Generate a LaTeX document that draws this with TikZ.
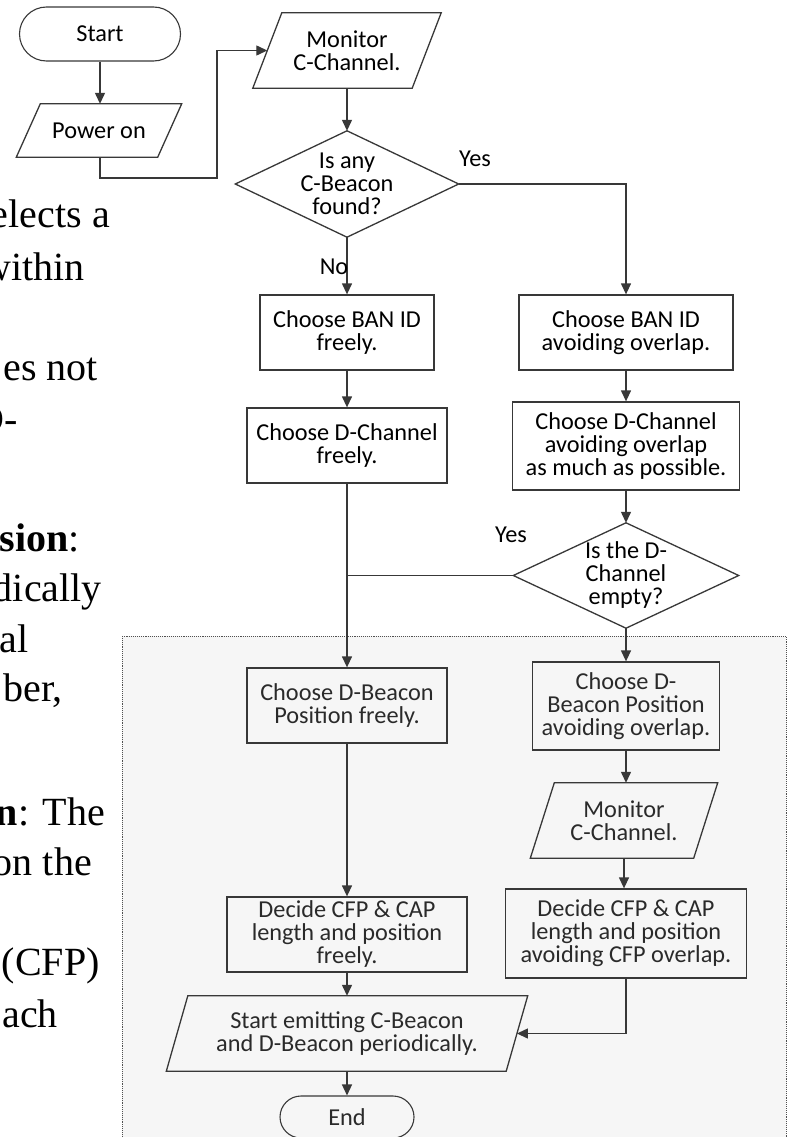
\documentclass[tikz,border=0pt]{standalone}
\usepackage{fontspec}
\newfontfamily\flowfont{Carlito}
\newfontfamily\sidefont{Liberation Serif}
\usetikzlibrary{arrows.meta,calc}
\definecolor{lc}{HTML}{383838}
\definecolor{regionfill}{HTML}{F6F6F6}
\definecolor{regionline}{HTML}{505050}
\definecolor{tc}{HTML}{2A2A2A}
\newcommand\paraoutline[2]{%
  \draw[outline] ($(#1.north west)+(#2/2,0)$) -- ($(#1.north east)+(#2/2,0)$)
    -- ($(#1.south east)+(-#2/2,0)$) -- ($(#1.south west)+(-#2/2,0)$) -- cycle;}
\newcommand\diamondoutline[1]{%
  \draw[outline] (#1.north) -- (#1.east) -- (#1.south) -- (#1.west) -- cycle;}
\begin{document}
\begin{tikzpicture}[x=1pt,y=-1pt,
  ff/.style={font=\flowfont\fontsize{24.3pt}{23pt}\selectfont, align=center, inner sep=0pt},
  boxnode/.style={ff, draw=lc, line width=1.3pt, rectangle, minimum height=75pt},
  ghost/.style={ff, rectangle, minimum height=75pt},
  termnode/.style={ff, draw=lc, line width=1.1pt, rectangle, minimum height=54pt, rounded corners=27pt},
  outline/.style={draw=lc, line width=1.3pt, line join=miter},
  flow/.style={draw=lc, line width=1.3pt, -{Triangle[length=11pt,width=10pt]}},
  plainline/.style={draw=lc, line width=1.3pt},
  lab/.style={font=\flowfont\fontsize{24.3pt}{23pt}\selectfont, inner sep=0pt},
  side/.style={font=\sidefont\fontsize{40pt}{50pt}\selectfont, inner sep=0pt, anchor=base east},
  intext/.style={text=tc},
]
\useasboundingbox (0,0) rectangle (787,1137);
\clip (0,0) rectangle (787,1137);
\fill[white] (0,0) rectangle (787,1137);

% shaded region
\fill[regionfill] (122,636) rectangle (786,1175);
\draw[regionline, densely dotted, line width=0.9pt] (122,636) rectangle (786,1175);

% side text fragments
\node[side] (t1) at (110,227) {elects a};
\node[side] (t2) at (85,280) {within};
\node[side] (t3) at (98,380) {es not};
\node[side] (t4) at (18,432) {D-};
\node[side] (t5) at (80,551) {\textbf{sion}:};
\node[side] (t6) at (102,601) {dically};
\node[side] (t7) at (29,652) {al};
\node[side] (t8) at (63,701) {ber,};
\node[side] (t9) at (105,825) {\textbf{n}: The};
\node[side] (t10) at (92,875) {on the};
\node[side] (t11) at (100,975) {(CFP)};
\node[side] (t12) at (58,1027) {ach};

% top part
\node[termnode, minimum width=161pt] (start) at (100,34) {Start};
\node[ghost, minimum width=141pt, minimum height=53pt] (pw) at (99,130.5) {Power on};
\paraoutline{pw}{24}
\node[ghost, minimum width=159pt] (mon1) at (347,50.5) {Monitor\\C-Channel.};
\paraoutline{mon1}{29}
\node[ghost, minimum width=223pt, minimum height=106pt] (d1) at (347,184) {Is any\\C-Beacon\\found?};
\diamondoutline{d1}
\node[boxnode, minimum width=174pt] (ban1) at (347,332.5) {Choose BAN ID\\freely.};
\node[boxnode, minimum width=214pt] (ban2) at (626,332.5) {Choose BAN ID\\avoiding overlap.};
\node[boxnode, minimum width=200pt] (dch1) at (347,445.5) {Choose D-Channel\\freely.};
\node[boxnode, minimum width=227pt, minimum height=88pt] (dch2) at (626,446) {Choose D-Channel\\avoiding overlap\\as much as possible.};
\node[ghost, minimum width=225pt, minimum height=105pt] (d2) at (626,575.5) {Is the D-\\Channel\\empty?};
\diamondoutline{d2}

% shaded part
\node[boxnode, intext, minimum width=200pt] (db1) at (347,705.5) {Choose D-Beacon\\Position freely.};
\node[boxnode, intext, minimum width=187pt, minimum height=88pt] (db2) at (626,706) {Choose D-\\Beacon Position\\avoiding overlap.};
\node[ghost, intext, minimum width=163pt] (mon2) at (624,820.5) {Monitor\\C-Channel.};
\paraoutline{mon2}{24}
\node[boxnode, intext, minimum width=240pt] (dec1) at (347,934.5) {Decide CFP \& CAP\\length and position\\freely.};
\node[boxnode, intext, minimum width=241pt, minimum height=89pt] (dec2) at (626,933.5) {Decide CFP \& CAP\\length and position\\avoiding CFP overlap.};
\node[ghost, intext, minimum width=339.5pt] (emit) at (347,1033.5) {Start emitting C-Beacon\\and D-Beacon periodically.};
\paraoutline{emit}{21.5}
\node[termnode, intext, minimum width=134pt, minimum height=42pt, rounded corners=21pt] (end) at (347,1117) {End};

% connectors
\coordinate (j1) at (217,178);
\draw[flow] (start.south -| pw.north) ++(1,0) -- ($(pw.north)+(1,0)$);
\draw[flow] ($(pw.south)+(1,0)$) |- (j1) |- (mon1.west);
\draw[flow] (mon1.south) -- (d1.north);
\draw[flow] (d1.south) -- (ban1.north);
\draw[flow] (d1.east) -| (ban2.north);
\draw[flow] (ban1.south) -- (dch1.north);
\draw[flow] (ban2.south) -- (dch2.north);
\draw[flow] (dch2.south) -- (d2.north);
\draw[flow] (dch1.south) -- (db1.north);
\draw[plainline] (d2.west) -- (d2.west -| dch1.south);
\draw[flow] (d2.south) -- (db2.north);
\draw[flow] (db1.south) -- (dec1.north);
\draw[flow] (db2.south) -- (db2.south |- mon2.north);
\draw[flow] (mon2.north |- mon2.south) -- (mon2.north |- dec2.north);
\draw[flow] (dec1.south) -- (emit.north);
\draw[flow] (dec2.south) |- (emit.east);
\draw[flow] (emit.south) -- (end.north);

% labels
\node[lab] (yes1) at (475,159) {Yes};
\node[lab] (no1) at (334,267) {No};
\node[lab] (yes2) at (511,535) {Yes};
\end{tikzpicture}
\end{document}
